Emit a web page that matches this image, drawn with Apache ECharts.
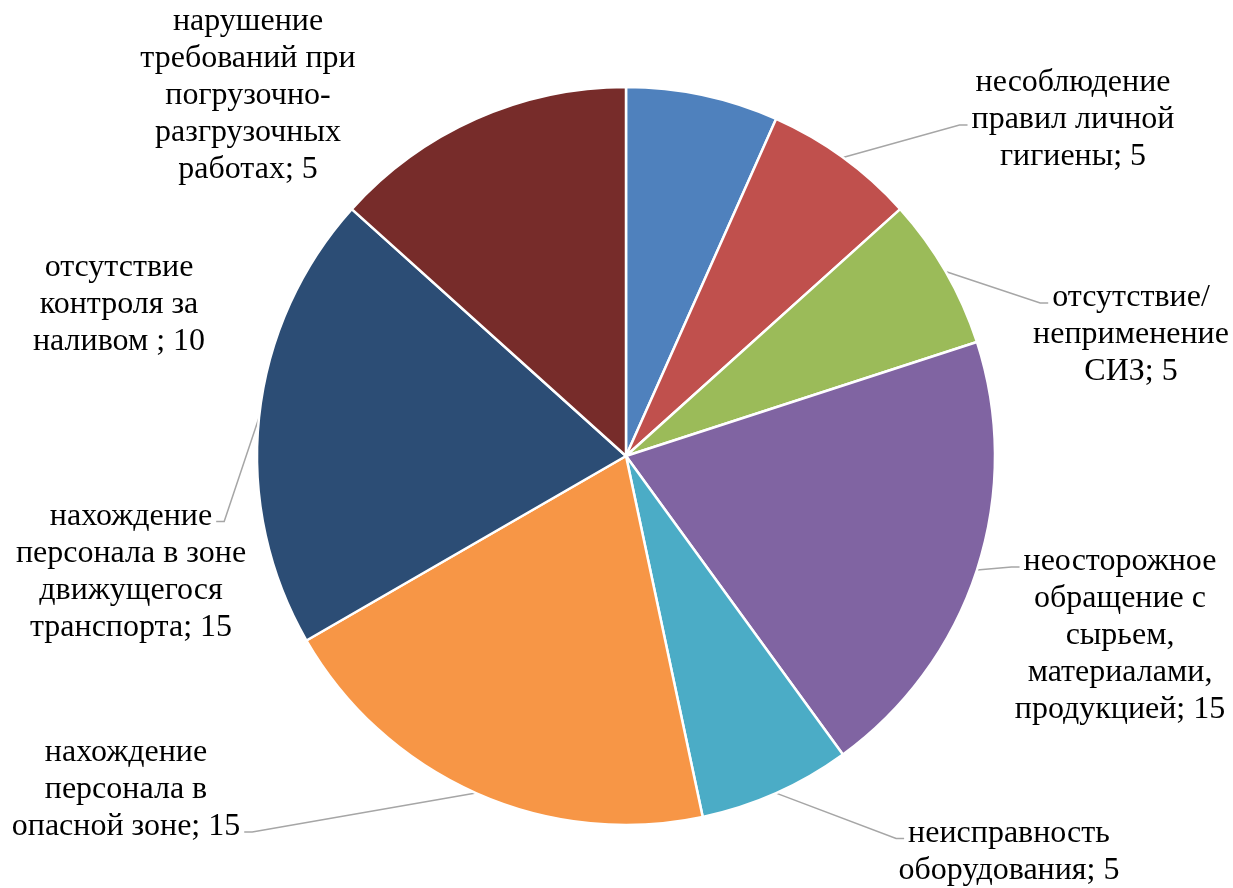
<!DOCTYPE html>
<html>
<head>
<meta charset="utf-8">
<script src="https://cdn.jsdelivr.net/npm/echarts@6/dist/echarts.min.js"></script>
<style>
  html, body { margin: 0; padding: 0; background: #fff; }
  #chart { width: 1233px; height: 888px; }
</style>
</head>
<body>
<div id="chart"></div>
<script>
// Causes of workplace incidents (line breaks follow the label wrapping)
const categories = [
  'нарушение\nтребований при\nпогрузочно-\nразгрузочных\nработах',
  'несоблюдение\nправил личной\nгигиены',
  'отсутствие/\nнеприменение\nСИЗ',
  'неосторожное\nобращение с\nсырьем,\nматериалами,\nпродукцией',
  'неисправность\nоборудования',
  'нахождение\nперсонала в\nопасной зоне',
  'нахождение\nперсонала в зоне\nдвижущегося\nтранспорта',
  'отсутствие\nконтроля за\nналивом '
];
const values = [5, 5, 5, 15, 5, 15, 15, 10];

// Slice colours, clockwise from 12 o'clock
const colors = ['#4F81BD', '#C0504D', '#9BBB59', '#8064A2', '#4BACC6', '#F79646', '#2C4D75', '#772C2A'];

// Label block centres (px)
const labelCentres = [[248, 96], [1073, 120], [1131, 335], [1120, 636], [1009, 852], [126, 790], [131, 572], [119, 305]];
// Leader lines: which side of the label and which text line they meet (null = no leader)
const leaders = [null, ['left', 1], ['left', 0], ['left', 0], ['left', 0], ['right', 2], ['right', 0], null];

const FONT_SIZE = 32;
const LINE_HEIGHT = 37;
const FONT_FAMILY = '"Liberation Serif", "Times New Roman", serif';
const TAIL = 8;   // horizontal end segment of a leader
const GAP = 4;    // space between leader end and text

const measureCtx = document.createElement('canvas').getContext('2d');
measureCtx.font = FONT_SIZE + 'px ' + FONT_FAMILY;

function labelText(i) {
  return categories[i] + '; ' + values[i];
}

const chart = echarts.init(document.getElementById('chart'), null, { renderer: 'canvas' });

chart.setOption({
  backgroundColor: '#ffffff',
  animation: false,
  series: [{
    type: 'pie',
    center: [626, 456],
    radius: 369,
    startAngle: 90,
    clockwise: true,
    avoidLabelOverlap: false,
    data: categories.map((name, i) => ({
      name: name,
      value: values[i],
      itemStyle: { color: colors[i] },
      labelLine: { show: leaders[i] !== null }
    })),
    itemStyle: { borderColor: '#ffffff', borderWidth: 2.5 },
    label: {
      show: true,
      position: 'outside',
      formatter: '{b}; {c}',
      fontFamily: FONT_FAMILY,
      fontSize: FONT_SIZE,
      lineHeight: LINE_HEIGHT,
      color: '#000000'
    },
    labelLine: {
      length: 15,
      length2: TAIL,
      minTurnAngle: 0,
      lineStyle: { color: '#A6A6A6', width: 1.5 }
    },
    labelLayout: function (params) {
      const i = params.dataIndex;
      const c = labelCentres[i];
      const out = { x: c[0], y: c[1], align: 'center', verticalAlign: 'middle' };
      const leader = leaders[i];
      if (leader && params.labelLinePoints) {
        const lines = labelText(i).split('\n');
        const lineIdx = leader[1];
        const top = c[1] - lines.length * LINE_HEIGHT / 2;
        const ly = top + LINE_HEIGHT * (lineIdx + 0.5) + 5;
        const halfW = measureCtx.measureText(lines[lineIdx]).width / 2;
        const dir = leader[0] === 'left' ? -1 : 1;
        const endX = c[0] + dir * (halfW + GAP);
        const anchor = params.labelLinePoints[0];
        out.labelLinePoints = [
          [anchor[0], anchor[1]],
          [endX + dir * TAIL, ly],
          [endX, ly]
        ];
      }
      return out;
    },
    emphasis: { disabled: true }
  }]
});
</script>
</body>
</html>
